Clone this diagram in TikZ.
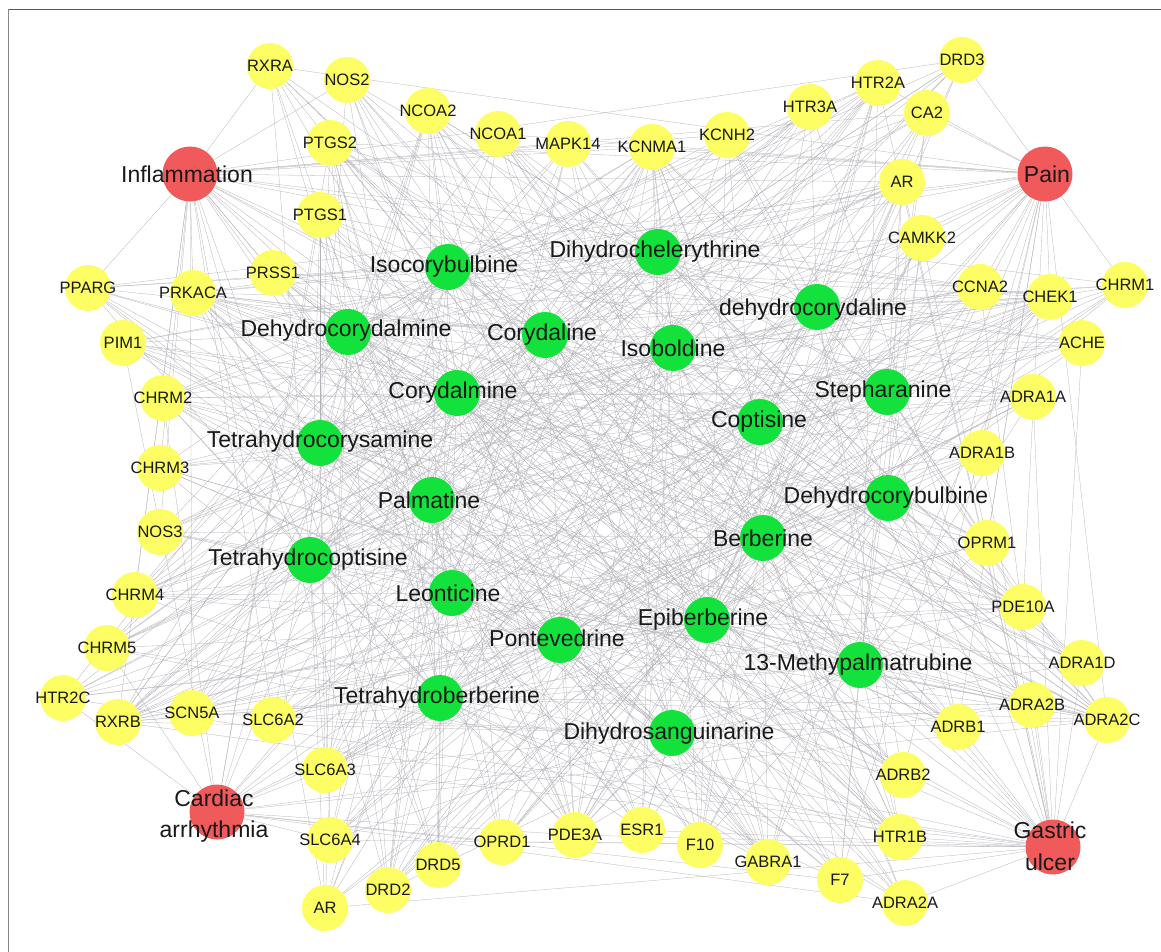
\documentclass[tikz,border=0pt]{standalone}
\usepackage{fontspec}
\setmainfont{Liberation Sans}
\usetikzlibrary{backgrounds}
\definecolor{redn}{RGB}{240,90,90}
\definecolor{yeln}{RGB}{253,253,100}
\definecolor{grnn}{RGB}{20,226,60}
\definecolor{edgec}{RGB}{178,178,185}
\definecolor{txt}{RGB}{25,25,25}
\definecolor{frametop}{RGB}{90,90,90}
\definecolor{frameleft}{RGB}{135,135,135}
\tikzset{
  tnode/.style={circle, fill=yeln, minimum size=46pt, inner sep=0pt},
  cnode/.style={circle, fill=grnn, minimum size=46pt, inner sep=0pt},
  dnode/.style={circle, fill=redn, minimum size=55pt, inner sep=0pt},
  tlab/.style={font=\fontsize{16.5}{16.5}\selectfont, text=txt, inner sep=0pt},
  clab/.style={font=\fontsize{23}{23}\selectfont, text=txt, inner sep=0pt},
  dlab/.style={font=\fontsize{23}{31}\selectfont, text=txt, inner sep=0pt, align=center},
  edge/.style={draw=edgec, line width=0.28pt},
}
\begin{document}
\begin{tikzpicture}[x=1pt,y=-1pt]
\useasboundingbox (0,0) rectangle (1161,952);
% disease nodes
\node[dnode] (d1) at (190,174) {};
\node[dnode] (d2) at (1045,174) {};
\node[dnode] (d3) at (217,812) {};
\node[dnode] (d4) at (1053,847) {};
\node[clab] (ld1) at (187,174) {Inflammation};
\node[clab] (ld2) at (1047,174) {Pain};
\node[dlab] (ld3) at (214,816) {Cardiac\\arrhythmia};
\node[dlab, font=\fontsize{23}{32}\selectfont] (ld4) at (1050,846) {Gastric\\ulcer};
% compound nodes
\foreach \n/\x/\y/\lx/\ly/\s in {
 1/448/267/444/267/Isocorybulbine,
 2/658/252/655/252/Dihydrochelerythrine,
 3/817/307/813/310/dehydrocorydaline,
 4/348/332/346/331/Dehydrocorydalmine,
 5/545/335/542/335/Corydaline,
 6/673/348/673/348/Isoboldine,
 7/457/393/453/393/Corydalmine,
 8/887/392/883/392/Stepharanine,
 9/760/422/759/422/Coptisine,
 10/320/443/320/442/Tetrahydrocorysamine,
 11/888/498/886/498/Dehydrocorybulbine,
 12/432/500/429/500/Palmatine,
 13/763/538/763/538/Berberine,
 14/310/560/308/560/Tetrahydrocoptisine,
 15/452/593/448/593/Leonticine,
 16/707/620/703/620/Epiberberine,
 17/560/640/557/638/Pontevedrine,
 18/860/665/858/665/13-Methypalmatrubine,
 19/440/698/437/698/Tetrahydroberberine,
 20/672/733/669/734/Dihydrosanguinarine}{
  \node[cnode] (c\n) at (\x,\y) {};
  \node[clab] (lc\n) at (\lx,\ly) {\s};
}
% target nodes
\foreach \n/\x/\y/\s in {
 1/270/66/RXRA, 2/347/80/NOS2, 3/428/111/NCOA2, 4/498/134/NCOA1,
 5/568/144/MAPK14, 6/652/147/KCNMA1, 7/727/135/KCNH2, 8/810/107/HTR3A,
 9/878/83/HTR2A, 10/962/60/DRD3, 11/927/113/CA2, 12/902/182/AR,
 13/922/238/CAMKK2, 14/980/287/CCNA2, 15/1050/297/CHEK1, 16/1125/285/CHRM1,
 17/1082/343/ACHE, 18/1033/397/ADRA1A, 19/982/453/ADRA1B, 20/987/543/OPRM1,
 21/1023/607/PDE10A, 22/1082/663/ADRA1D, 23/1032/705/ADRA2B, 24/1107/720/ADRA2C,
 25/958/727/ADRB1, 26/903/775/ADRB2, 27/900/837/HTR1B, 28/905/903/ADRA2A,
 29/840/880/F7, 30/768/862/GABRA1, 31/700/845/F10, 32/642/830/ESR1,
 33/575/835/PDE3A, 34/502/842/OPRD1, 35/438/865/DRD5, 36/388/890/DRD2,
 37/325/908/AR, 38/330/840/SLC6A4, 39/325/770/SLC6A3, 40/273/720/SLC6A2,
 41/192/713/SCN5A, 42/118/722/RXRB, 43/63/698/HTR2C, 44/107/648/CHRM5,
 45/135/595/CHRM4, 46/160/532/NOS3, 47/160/468/CHRM3, 48/163/398/CHRM2,
 49/123/343/PIM1, 50/88/288/PPARG, 51/193/293/PRKACA, 52/273/273/PRSS1,
 53/320/215/PTGS1, 54/330/143/PTGS2}{
  \node[tnode] (t\n) at (\x,\y) {};
  \node[tlab] (lt\n) at (\x,\y) {\s};
}
\begin{pgfonlayer}{background}
  \fill[white] (0,0) rectangle (1161,952);
  \foreach \d in {1,...,4}{
    \foreach \j in {1,...,54}{
      \pgfmathtruncatemacro\q{mod(\j*\j,5)}
      \pgfmathtruncatemacro\k{mod(\j*(2*\d+1)+\d*\d*\q+\d,5)}
      \ifnum\k<3 \draw[edge] (d\d) -- (t\j); \fi
    }
  }
  \foreach \i in {1,...,20}{
    \foreach \j in {1,...,54}{
      \pgfmathtruncatemacro\k{mod(\i*\j*7+\i*3+\j*5,9)}
      \ifnum\k<4 \draw[edge] (c\i) -- (t\j); \fi
    }
  }
\end{pgfonlayer}
% frame
\coordinate (fc) at (8.5,9.5);
\coordinate (ftr) at (1161,9.5);
\coordinate (fbl) at (8.5,952);
\draw[frametop, line width=1.6pt] (fc) -- (ftr);
\draw[frameleft, line width=1.8pt] (fc) -- (fbl);
\end{tikzpicture}
\end{document}
